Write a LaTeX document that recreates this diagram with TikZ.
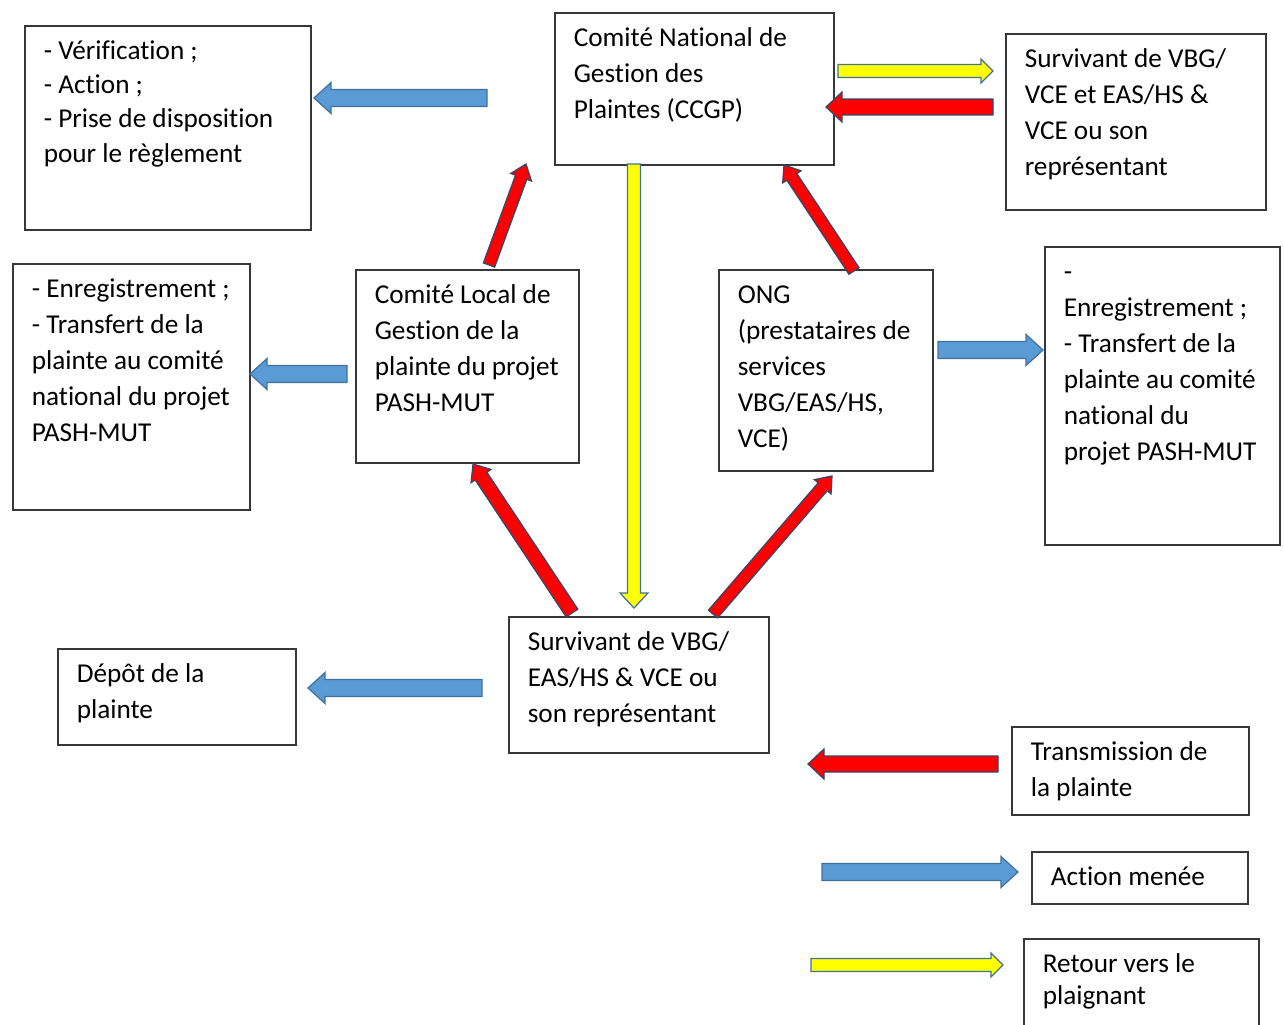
\documentclass[tikz,border=0pt]{standalone}
\usepackage{fontspec}
\setmainfont{Carlito}[Ligatures=NoCommon]
\usetikzlibrary{calc}

\newdimen\pxu \pxu=0.02cm
\definecolor{rojo}{HTML}{FF0000}
\definecolor{azul}{HTML}{5B9BD5}
\definecolor{amarillo}{HTML}{FFFF00}
\definecolor{contorno}{HTML}{41719C}
\definecolor{contornorojo}{HTML}{33486A}
\definecolor{marco}{HTML}{383838}

\begin{document}
\begin{tikzpicture}[
    x=0.02cm, y=-0.02cm,
    caja/.style 2 args={draw=marco, line width=0.9pt, anchor=north west, inner sep=0pt,
      minimum width=#1*0.02cm, minimum height=#2*0.02cm,
      font=\fontsize{15.5}{20.5}\selectfont,
      execute at begin node={\hspace*{19\pxu}\begin{minipage}[c][#2\pxu][t]{\dimexpr#1\pxu-19\pxu\relax}\raggedright\rule{0pt}{34\pxu}},
      execute at end node={\end{minipage}}},
    dims/.code args={#1/#2/#3}{\def\fsa{#1*0.01cm}\def\fca{#2*0.01cm}\def\fla{#3*0.02cm}},
    flecha/.style={line width=0.7pt, line join=miter, fill=#1, to path={
      let \p1=(\tikztostart), \p2=(\tikztotarget),
          \n1={atan2(\y2-\y1,\x2-\x1)}, \n2={veclen(\x2-\x1,\y2-\y1)} in
      ($(\p1)+(\n1+90:\fsa)$) -- ($(\p1)+(\n1:\n2-\fla)+(\n1+90:\fsa)$)
      -- ($(\p1)+(\n1:\n2-\fla)+(\n1+90:\fca)$) -- (\p2)
      -- ($(\p1)+(\n1:\n2-\fla)+(\n1-90:\fca)$)
      -- ($(\p1)+(\n1:\n2-\fla)+(\n1-90:\fsa)$)
      -- ($(\p1)+(\n1-90:\fsa)$) -- cycle}},
    roja/.style={flecha=rojo, draw=contornorojo, dims=16/30/16},
    rojadiag/.style={flecha=rojo, draw=contornorojo, dims=12/22/14},
    azulf/.style={flecha=azul, draw=contorno, dims=17/31/17},
    amarilla/.style={flecha=amarillo, draw=contorno, dims=13/24/12}]

  \useasboundingbox (0,0) rectangle (1284,1024);

  %% ============================== cajas ====================================
  \node[caja={286}{204}, font=\fontsize{15.5}{19.4}\selectfont] (verif) at (24,25)
    {- Vérification ;\\- Action ;\\- Prise de disposition\\pour le règlement};
  \node[caja={279}{152}] (ccgp) at (554,12)
    {Comité National de\\Gestion des\\Plaintes (CCGP)};
  \node[caja={260}{176}] (survhaut) at (1005,33)
    {Survivant de VBG/\\VCE et EAS/HS \&\\VCE ou son\\représentant};
  \node[caja={237}{246}] (enregg) at (12,263)
    {- Enregistrement ;\\- Transfert de la\\plainte au comité\\national du projet\\PASH-MUT};
  \node[caja={223}{193}] (clgp) at (355,269)
    {Comité Local de\\Gestion de la\\plainte du projet\\PASH-MUT};
  \node[caja={214}{201}] (ong) at (718,269)
    {ONG\\(prestataires de\\services\\VBG/EAS/HS,\\VCE)};
  \node[caja={235}{298}] (enregd) at (1044,246)
    {-\\Enregistrement ;\\- Transfert de la\\plainte au comité\\national du\\projet PASH-MUT};
  \node[caja={238}{96}] (depot) at (57,648)
    {Dépôt de la\\plainte};
  \node[caja={260}{136}] (survbas) at (508,616)
    {Survivant de VBG/\\EAS/HS \& VCE ou\\son représentant};

  %% ============================== légende ==================================
  \node[caja={237}{88}] (legtrans) at (1011,726)
    {Transmission de\\la plainte};
  \node[caja={216}{52}] (legaction) at (1031,851)
    {Action menée};
  \node[caja={235}{100}, font=\fontsize{15.5}{18.2}\selectfont] (legretour) at (1023,938)
    {Retour vers le\\plaignant};

  %% ============================== flèches ==================================
  \foreach \c/\x/\y in {a1/487/98, a2/314/98, b1/838/71, b2/993/71,
      c1/993/107, c2/826/107, d1/489/265, d2/526/164, e1/854/271, e2/784/165,
      f1/634/164, f2/634/608, g1/347/374, g2/250/374, h1/938/350, h2/1043/350,
      i1/572/613, i2/473/464, j1/713/614, j2/832/476, k1/482/688, k2/308/688,
      l1/998/764, l2/808/764, m1/822/872, m2/1018/872, n1/811/965, n2/1003/965}
    \coordinate (\c) at (\x,\y);

  \draw[azulf] (a1) to (a2);
  \draw[amarilla] (b1) to (b2);
  \draw[roja] (c1) to (c2);
  \draw[rojadiag] (d1) to (d2);
  \draw[rojadiag] (e1) to (e2);
  \draw[amarilla, dims=13/28/15] (f1) to (f2);
  \draw[azulf] (g1) to (g2);
  \draw[azulf] (h1) to (h2);
  \draw[rojadiag, dims=14/24/14] (i1) to (i2);
  \draw[rojadiag] (j1) to (j2);
  \draw[azulf] (k1) to (k2);
  \draw[roja] (l1) to (l2);
  \draw[azulf] (m1) to (m2);
  \draw[amarilla] (n1) to (n2);

\end{tikzpicture}
\end{document}
